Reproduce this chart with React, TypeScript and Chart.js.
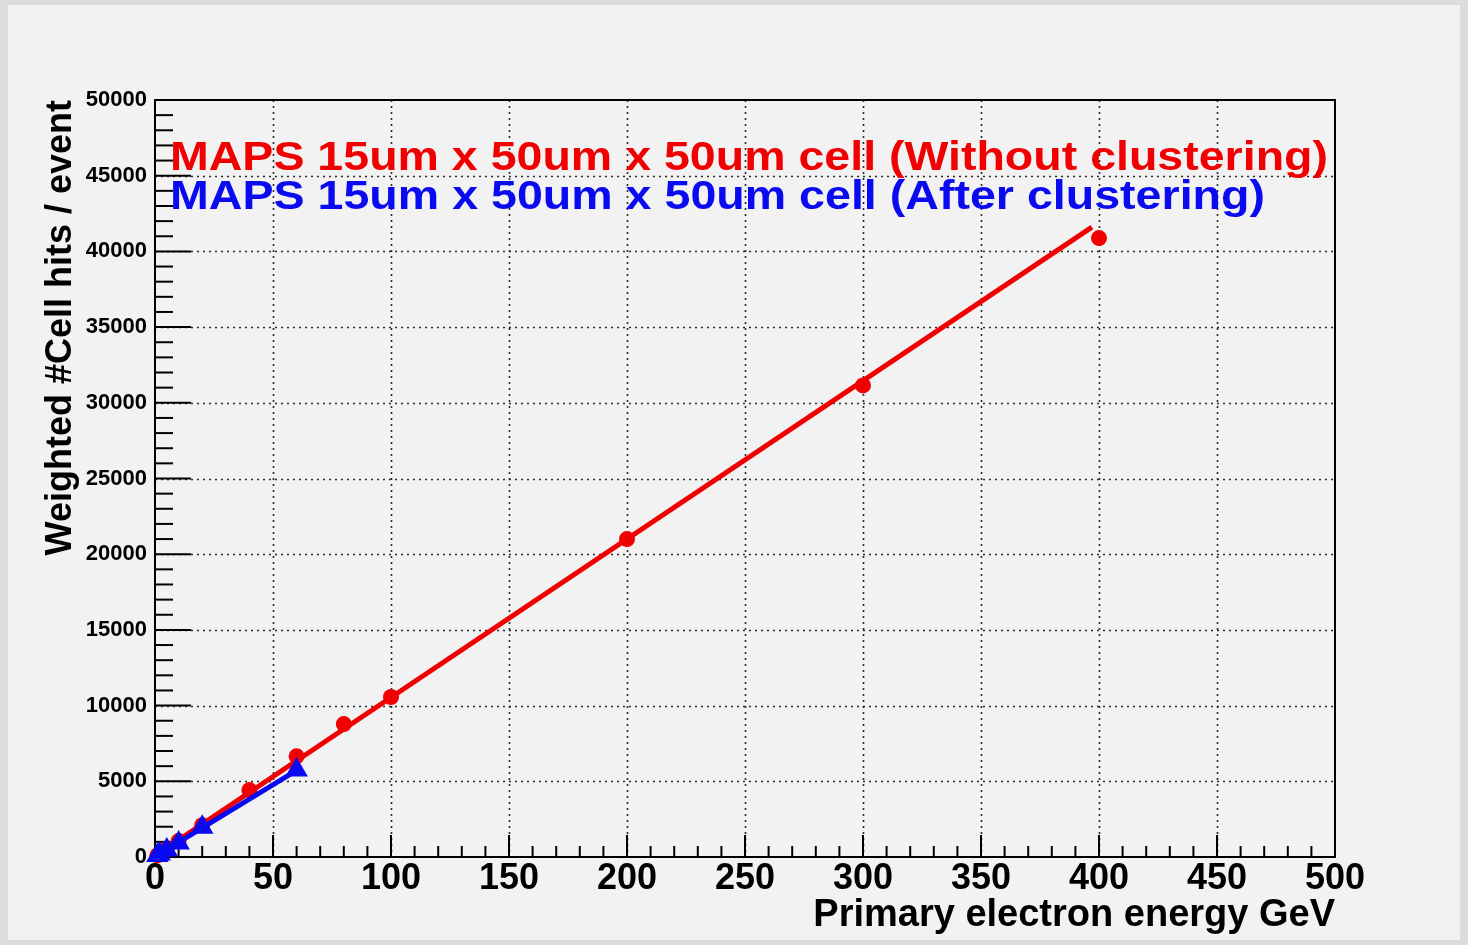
import React, { useEffect, useRef } from "react";
import { Chart, registerables } from "chart.js";

Chart.register(...registerables);

// ---- data ----
const redEnergies = [1, 2, 5, 10, 20, 40, 60, 80, 100, 200, 300, 400];
const redHits = [105, 210, 520, 1050, 2100, 4420, 6650, 8780, 10570, 21000, 31150, 40880];
const blueEnergies = [1, 2, 5, 10, 20, 60];
const blueHits = [95, 190, 470, 930, 1960, 5750];
const redFitX = [0, 397];
const redFitY = [80, 41600];
const blueFitX = [0, 60];
const blueFitY = [20, 5720];
const legendLabels = [
  "MAPS 15um x 50um x 50um cell (Without clustering)",
  "MAPS 15um x 50um x 50um cell (After clustering)",
];
const xTitle = "Primary electron energy GeV";
const yTitle = "Weighted #Cell hits / event";

const RED = "#f00000";
const BLUE = "#0a0af0";
const FONT = "'Liberation Sans', Arial, Helvetica, sans-serif";

const pts = (xs: number[], ys: number[]) => xs.map((x, i) => ({ x, y: ys[i] }));

const rootStyle = {
  id: "rootStyle",
  beforeDatasetsDraw(chart: any) {
    const { ctx, chartArea: a, scales } = chart;
    const x = scales.x;
    const y = scales.y;
    ctx.save();
    const line = (x1: number, y1: number, x2: number, y2: number) => {
      ctx.beginPath();
      ctx.moveTo(x1, y1);
      ctx.lineTo(x2, y2);
      ctx.stroke();
    };
    // dotted grid
    ctx.strokeStyle = "#2a2a2a";
    ctx.lineWidth = 1.6;
    ctx.setLineDash([2, 4]);
    x.ticks.forEach((t: any) => {
      if (t.value > x.min && t.value < x.max) {
        const px = Math.round(x.getPixelForValue(t.value)) + 0.5;
        line(px, a.top, px, a.bottom);
      }
    });
    y.ticks.forEach((t: any) => {
      if (t.value > y.min && t.value < y.max) {
        const py = Math.round(y.getPixelForValue(t.value)) + 0.5;
        line(a.left, py, a.right, py);
      }
    });
    ctx.setLineDash([]);
    // inside ticks
    ctx.strokeStyle = "#000";
    ctx.lineWidth = 2;
    const xs = x.ticks.map((t: any) => t.value);
    for (let i = 0; i < xs.length; i++) {
      const px = x.getPixelForValue(xs[i]);
      line(px, a.bottom, px, a.bottom - 22);
      if (i < xs.length - 1) {
        const step = (xs[i + 1] - xs[i]) / 5;
        for (let k = 1; k < 5; k++) {
          const mx = x.getPixelForValue(xs[i] + k * step);
          line(mx, a.bottom, mx, a.bottom - 11);
        }
      }
    }
    const ys = y.ticks.map((t: any) => t.value);
    for (let i = 0; i < ys.length; i++) {
      const py = y.getPixelForValue(ys[i]);
      line(a.left, py, a.left + 36, py);
      if (i < ys.length - 1) {
        const step = (ys[i + 1] - ys[i]) / 5;
        for (let k = 1; k < 5; k++) {
          const my = y.getPixelForValue(ys[i] + k * step);
          line(a.left, my, a.left + 18, my);
        }
      }
    }
    // frame
    ctx.lineWidth = 2;
    ctx.strokeRect(a.left, a.top, a.right - a.left, a.bottom - a.top);
    ctx.restore();
  },
  afterDatasetsDraw(chart: any) {
    const { ctx } = chart;
    ctx.save();
    ctx.font = `bold 41px ${FONT}`;
    ctx.textBaseline = "alphabetic";
    ctx.textAlign = "left";
    const specs = [
      { text: legendLabels[0], color: RED, x: 162, base: 165, w: 1158 },
      { text: legendLabels[1], color: BLUE, x: 162, base: 204, w: 1095 },
    ];
    specs.forEach((s) => {
      const mw = ctx.measureText(s.text).width;
      ctx.save();
      ctx.translate(s.x, s.base);
      ctx.scale(s.w / mw, 1);
      ctx.fillStyle = s.color;
      ctx.fillText(s.text, 0, 0);
      ctx.restore();
    });
    ctx.restore();
  },
};

export default function App() {
  const ref = useRef<HTMLCanvasElement | null>(null);
  useEffect(() => {
    if (!ref.current) return;
    const chart = new Chart(ref.current, {
      type: "scatter",
      data: {
        datasets: [
          {
            label: "blue points",
            data: pts(blueEnergies, blueHits),
            pointStyle: "triangle",
            pointRadius: 13,
            backgroundColor: BLUE,
            borderColor: BLUE,
            borderWidth: 0,
            showLine: false,
            clip: false,
          } as any,
          {
            label: "blue fit",
            data: pts(blueFitX, blueFitY),
            showLine: true,
            borderColor: BLUE,
            borderWidth: 5,
            pointRadius: 0,
            clip: false,
          },
          {
            label: "red points",
            data: pts(redEnergies, redHits),
            pointStyle: "circle",
            pointRadius: 8,
            backgroundColor: RED,
            borderColor: RED,
            borderWidth: 0,
            showLine: false,
            clip: false,
          },
          {
            label: "red fit",
            data: pts(redFitX, redFitY),
            showLine: true,
            borderColor: RED,
            borderWidth: 5,
            pointRadius: 0,
            clip: false,
          },
        ],
      },
      options: {
        animation: false,
        responsive: false,
        devicePixelRatio: 1,
        layout: { padding: { top: 95, right: 125, left: 0, bottom: 0 } },
        plugins: { legend: { display: false }, tooltip: { enabled: false } },
        scales: {
          x: {
            type: "linear",
            min: 0,
            max: 500,
            grid: { display: false, drawTicks: false },
            border: { display: false },
            ticks: {
              stepSize: 50,
              padding: 0,
              color: "#000",
              maxRotation: 0,
              font: { family: FONT, size: 36, weight: "bold" },
              callback: (v: any) => String(v),
            },
            title: {
              display: true,
              text: xTitle,
              align: "end",
              color: "#000",
              padding: { top: 0, bottom: 2 },
              font: { family: FONT, size: 38, weight: "bold" },
            },
            afterFit: (s: any) => {
              s.height = 83;
            },
          },
          y: {
            type: "linear",
            min: 0,
            max: 50000,
            grid: { display: false, drawTicks: false },
            border: { display: false },
            ticks: {
              stepSize: 5000,
              padding: 8,
              color: "#000",
              font: { family: FONT, size: 22, weight: "bold" },
              callback: (v: any) => String(v),
            },
            title: {
              display: true,
              text: yTitle,
              align: "end",
              color: "#000",
              padding: { top: 31, bottom: 0 },
              font: { family: FONT, size: 36, weight: "bold" },
            },
            afterFit: (s: any) => {
              s.width = 147;
            },
          },
        },
      },
      plugins: [rootStyle],
    });
    return () => chart.destroy();
  }, []);
  return (
    <div
      style={{
        position: "fixed",
        left: 0,
        top: 0,
        width: 1468,
        height: 945,
        background: "#dcdcdc",
      }}
    >
      <div
        style={{
          position: "absolute",
          left: 8,
          top: 5,
          width: 1452,
          height: 935,
          background: "#f2f2f2",
        }}
      >
        <canvas ref={ref} width={1452} height={935} style={{ display: "block" }} />
      </div>
    </div>
  );
}
